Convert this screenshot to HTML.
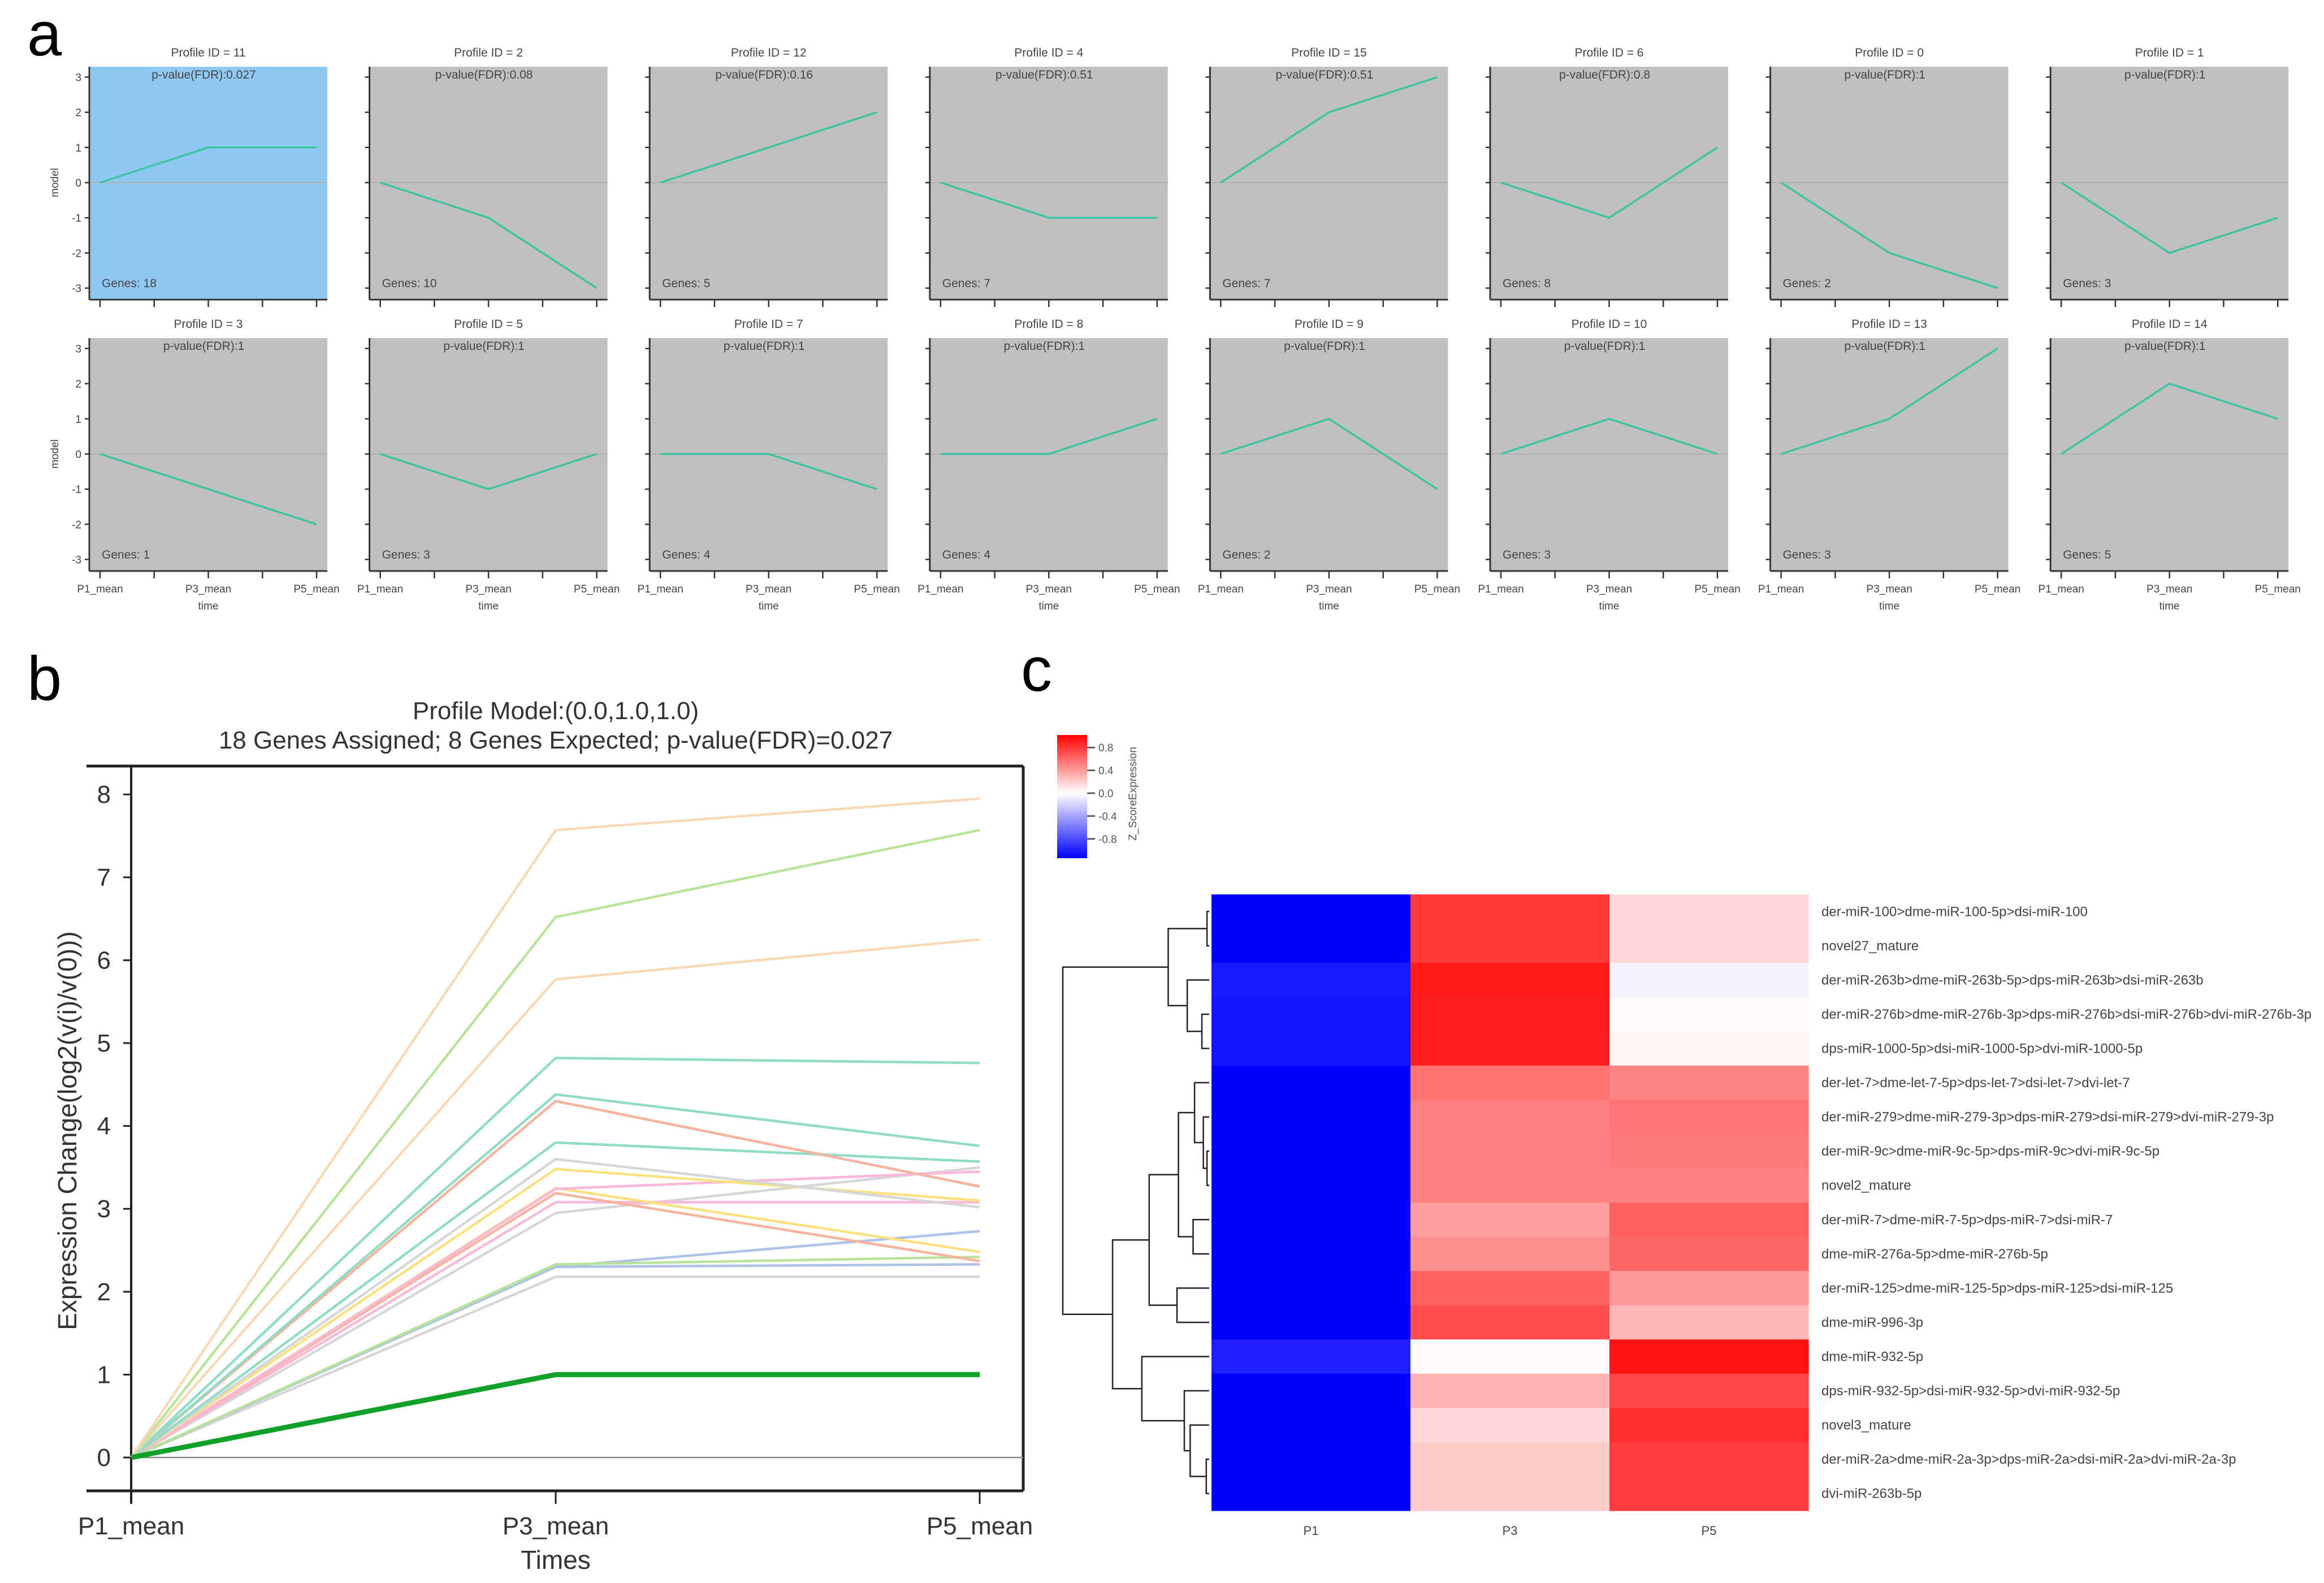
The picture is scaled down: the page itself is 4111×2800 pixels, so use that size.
<!DOCTYPE html>
<html><head><meta charset="utf-8">
<style>
html,body{margin:0;padding:0;background:#fff;}
svg{display:block;font-family:"Liberation Sans",Arial,sans-serif;}
</style></head>
<body>
<svg id="fig" width="4111" height="2800" viewBox="0 0 4111 2800" xmlns="http://www.w3.org/2000/svg">
<text x="48" y="98" font-size="110" font-family="Liberation Sans, sans-serif">a</text>
<text x="48" y="1238" font-size="110">b</text>
<text x="1806" y="1222" font-size="110">c</text>
<g id="pa"></g>
<g id="pb"></g>
<g id="pc"></g>
</svg>
<script>
// ---------- Panel a data ----------
const profileIds = [11,2,12,4,15,6,0,1, 3,5,7,8,9,10,13,14];
const profilePvals = ["0.027","0.08","0.16","0.51","0.51","0.8","1","1", "1","1","1","1","1","1","1","1"];
const profileGenes = [18,10,5,7,7,8,2,3, 1,3,4,4,2,3,3,5];
const profileModels = [[0,1,1],[0,-1,-3],[0,1,2],[0,-1,-1],[0,2,3],[0,-1,1],[0,-2,-3],[0,-2,-1],
  [0,-1,-2],[0,-1,0],[0,0,-1],[0,0,1],[0,1,-1],[0,1,0],[0,1,3],[0,2,1]];
const smallYTicks = [3,2,1,0,-1,-2,-3];
const timeLabels = ["P1_mean","P3_mean","P5_mean"];

// ---------- Panel b data ----------
const geneP3 = [7.57,6.52,5.77,4.82,4.38,4.30,3.80,3.60,3.48,3.24,3.25,3.19,3.08,2.95,2.33,2.30,2.30,2.18];
const geneP5 = [7.95,7.57,6.25,4.76,3.76,3.27,3.57,3.02,3.10,3.45,2.48,2.37,3.08,3.50,2.42,2.73,2.33,2.18];
const geneColors = ["#f7d9b8","#b9e39a","#f7d9b8","#92dbc6","#92dbc6","#f6b39e","#92dbc6","#d6d6d6","#fbe080","#f9b8d8","#fbe080","#f6b39e","#f9b8d8","#d6d6d6","#b9e39a","#aec2e8","#aec2e8","#d6d6d6"];
const modelProfile = [0,1,1];
const bigYTicks = [0,1,2,3,4,5,6,7,8];

// ---------- Panel c data ----------
const rowLabels = ["der-miR-100>dme-miR-100-5p>dsi-miR-100","novel27_mature","der-miR-263b>dme-miR-263b-5p>dps-miR-263b>dsi-miR-263b","der-miR-276b>dme-miR-276b-3p>dps-miR-276b>dsi-miR-276b>dvi-miR-276b-3p","dps-miR-1000-5p>dsi-miR-1000-5p>dvi-miR-1000-5p","der-let-7>dme-let-7-5p>dps-let-7>dsi-let-7>dvi-let-7","der-miR-279>dme-miR-279-3p>dps-miR-279>dsi-miR-279>dvi-miR-279-3p","der-miR-9c>dme-miR-9c-5p>dps-miR-9c>dvi-miR-9c-5p","novel2_mature","der-miR-7>dme-miR-7-5p>dps-miR-7>dsi-miR-7","dme-miR-276a-5p>dme-miR-276b-5p","der-miR-125>dme-miR-125-5p>dps-miR-125>dsi-miR-125","dme-miR-996-3p","dme-miR-932-5p","dps-miR-932-5p>dsi-miR-932-5p>dvi-miR-932-5p","novel3_mature","der-miR-2a>dme-miR-2a-3p>dps-miR-2a>dsi-miR-2a>dvi-miR-2a-3p","dvi-miR-263b-5p"];
const colLabels = ["P1","P3","P5"];
const zP1 = [-1,-1,-0.9,-0.92,-0.92,-1,-1,-1,-1,-1,-1,-1,-1,-0.88,-1,-1,-1,-1];
const zP3 = [0.78,0.78,0.9,0.88,0.88,0.55,0.5,0.5,0.5,0.38,0.44,0.62,0.7,0.02,0.3,0.15,0.2,0.2];
const zP5 = [0.15,0.15,-0.05,0.02,0.04,0.48,0.54,0.52,0.5,0.62,0.6,0.4,0.28,0.92,0.72,0.82,0.76,0.76];
const cbTicks = [0.8,0.4,0.0,-0.4,-0.8];
// dendrogram: [left, right, height] ; leaves are row indices
const tree = [[[0,1,0.015],[2,[3,4,0.05],0.15],0.28],
  [[[[5,[6,[7,8,0.015],0.04],0.1],[9,10,0.11],0.21],[11,12,0.22],0.41],[13,[14,[15,[16,17,0.02],0.13],0.17],0.46],0.66],1.0];

const NS="http://www.w3.org/2000/svg";
function mk(parent,tag,attrs,text){const e=document.createElementNS(NS,tag);for(const k in attrs)e.setAttribute(k,attrs[k]);if(text!==undefined)e.textContent=text;parent.appendChild(e);return e;}

// ---------- Panel a ----------
(function(){
  const g=document.getElementById('pa');
  const left0=158, pitch=495.6, W=421, rowsTop=[118,598], H=412;
  for(let i=0;i<profileIds.length;i++){
    const r=Math.floor(i/8), c=i%8;
    const L=left0+c*pitch, T=rowsTop[r];
    const y0=T+205, unit=62.2;
    const ys=v=>y0-v*unit;
    const xs=k=>L+19+k*191.5;
    const sg=mk(g,'g',{});
    
    
    const bg=mk(sg,'rect',{x:L,y:T,width:W,height:H,fill:i===0?'#90c8f4':'#c0c0c0'});
    
    
    mk(sg,'line',{x1:L,x2:L+W,y1:y0,y2:y0,stroke:'#b0b0b0','stroke-width':2});
    mk(sg,'line',{x1:L,x2:L,y1:T,y2:T+H,stroke:'#333','stroke-width':3});
    mk(sg,'line',{x1:L,x2:L+W,y1:T+H,y2:T+H,stroke:'#333','stroke-width':3});
    smallYTicks.forEach(v=>{
      mk(sg,'line',{x1:L-8,x2:L,y1:ys(v),y2:ys(v),stroke:'#333','stroke-width':2.5});
      if(c===0){const t=mk(sg,'text',{x:L-14,y:ys(v)+7,'font-size':19,fill:'#444','text-anchor':'end'},String(v));
        }
    });
    for(let k=0;k<5;k++){const x=L+19+k*95.75;mk(sg,'line',{x1:x,x2:x,y1:T+H,y2:T+H+13,stroke:'#333','stroke-width':2.5});}
    if(c===0){const yl=mk(sg,'text',{x:0,y:0,'font-size':19,fill:'#444','text-anchor':'middle',transform:`translate(${L-55},${y0}) rotate(-90)`},'model');
      }
    if(r===1){
      timeLabels.forEach((lb,k)=>{const t=mk(sg,'text',{x:xs(k),y:T+H+38,'font-size':19,fill:'#444','text-anchor':'middle'},lb);
        });
      const tt=mk(sg,'text',{x:xs(1),y:T+H+68,'font-size':19,fill:'#444','text-anchor':'middle'},'time');
      
    }
    const ti=mk(sg,'text',{x:xs(1),y:T-18,'font-size':21,fill:'#444','text-anchor':'middle'},'Profile ID = '+profileIds[i]);
    
    const pv=mk(sg,'text',{x:xs(1)-8,y:T+21,'font-size':21,fill:'#444','text-anchor':'middle'},'p-value(FDR):'+profilePvals[i]);
    
    const gn=mk(sg,'text',{x:L+22,y:T+390,'font-size':21,fill:'#444'},'Genes: '+profileGenes[i]);
    
    const m=profileModels[i];
    const pl=mk(sg,'polyline',{points:m.map((v,k)=>xs(k)+','+ys(v)).join(' '),fill:'none',stroke:'#3cc39f','stroke-width':3.5});
    
  }
})();

// ---------- Panel b ----------
(function(){
  const g=document.getElementById('pb');
  const xP=[232,983,1733];
  const ys=v=>2578-v*146.6;
  const xs=k=>xP[k];
  mk(g,'line',{x1:153,x2:1810,y1:1355,y2:1355,stroke:'#222','stroke-width':5});
  mk(g,'line',{x1:153,x2:1810,y1:2637,y2:2637,stroke:'#222','stroke-width':5});
  mk(g,'line',{x1:1810,x2:1810,y1:1355,y2:2637,stroke:'#222','stroke-width':5});
  mk(g,'line',{x1:232,x2:232,y1:1355,y2:2660,stroke:'#222','stroke-width':4});
  mk(g,'line',{x1:232,x2:1810,y1:ys(0),y2:ys(0),stroke:'#888','stroke-width':2.5});
  bigYTicks.forEach(v=>{
    mk(g,'line',{x1:218,x2:232,y1:ys(v),y2:ys(v),stroke:'#222','stroke-width':3});
    const t=mk(g,'text',{x:196,y:ys(v)+15,'font-size':44,fill:'#333','text-anchor':'end'},String(v));
    
  });
  timeLabels.forEach((lb,k)=>{
    mk(g,'line',{x1:xs(k),x2:xs(k),y1:2637,y2:2660,stroke:'#222','stroke-width':3});
    const t=mk(g,'text',{x:xs(k),y:2714,'font-size':44,fill:'#333','text-anchor':'middle'},lb);
    
  });
  const xt=mk(g,'text',{x:983,y:2775,'font-size':46,fill:'#333','text-anchor':'middle'},'Times');
  
  const yt=mk(g,'text',{x:0,y:0,'font-size':46,fill:'#333','text-anchor':'middle',transform:'translate(135,2000) rotate(-90)'},'Expression Change(log2(v(i)/v(0)))');
  
  const t1=mk(g,'text',{x:983,y:1272,'font-size':44,fill:'#333','text-anchor':'middle'},'Profile Model:(0.0,1.0,1.0)');
  
  const t2=mk(g,'text',{x:983,y:1324,'font-size':44,fill:'#333','text-anchor':'middle'},'18 Genes Assigned; 8 Genes Expected; p-value(FDR)=0.027');
  
  for(let i=geneP3.length-1;i>=0;i--){
    const vals=[0,geneP3[i],geneP5[i]];
    const pl=mk(g,'polyline',{points:vals.map((v,k)=>xs(k)+','+ys(v)).join(' '),fill:'none',stroke:geneColors[i],'stroke-width':4.5});
    
  }
  const ml=mk(g,'polyline',{points:modelProfile.map((v,k)=>xs(k)+','+ys(v)).join(' '),fill:'none',stroke:'#11a02a','stroke-width':9});
  
})();

// ---------- Panel c ----------
(function(){
  const g=document.getElementById('pc');
  const hx=2143, colW=352, top=1582, rowH=(2672-1582)/18;
  function col(z){z=Math.max(-1,Math.min(1,z));
    if(z>=0){const a=Math.round(255*(1-z));return `rgb(255,${a},${a})`;}
    const a=Math.round(255*(1+z));return `rgb(${a},${a},255)`;}
  const cols=[zP1,zP3,zP5];
  for(let r=0;r<rowLabels.length;r++){
    for(let c=0;c<3;c++){
      const cell=mk(g,'rect',{x:hx+c*colW,y:top+r*rowH,width:colW+0.6,height:rowH+0.6,fill:col(cols[c][r])});
      
    }
    const t=mk(g,'text',{x:3222,y:top+r*rowH+rowH/2+8,'font-size':24,fill:'#444'},rowLabels[r]);
    
  }
  colLabels.forEach((lb,c)=>{const t=mk(g,'text',{x:hx+c*colW+colW/2,y:2715,'font-size':22,fill:'#444','text-anchor':'middle'},lb);
    });
  const scale=259;
  const dx=h=>hx-4-h*scale;
  function draw(node){
    if(typeof node==='number')return {y:top+node*rowH+rowH/2,h:0};
    const a=draw(node[0]),b=draw(node[1]),h=node[2],x=dx(h);
    const p=mk(g,'path',{d:`M${dx(a.h)},${a.y}H${x}V${b.y}H${dx(b.h)}`,fill:'none',stroke:'#222','stroke-width':2.5});
    
    return {y:(a.y+b.y)/2,h:h};
  }
  draw(tree);
  const defs=mk(g,'defs',{});
  const lg=mk(defs,'linearGradient',{id:'cbg',x1:0,y1:0,x2:0,y2:1});
  mk(lg,'stop',{offset:'0','stop-color':'#ff0000'});
  mk(lg,'stop',{offset:'0.47','stop-color':'#ffffff'});
  mk(lg,'stop',{offset:'1','stop-color':'#0000ff'});
  const cb=mk(g,'rect',{x:1870,y:1300,width:53,height:218,fill:'url(#cbg)'});
  
  cbTicks.forEach(v=>{const y=1403-v*101;
    mk(g,'line',{x1:1923,x2:1937,y1:y,y2:y,stroke:'#444','stroke-width':2.5});
    const t=mk(g,'text',{x:1943,y:y+7,'font-size':19,fill:'#555'},v.toFixed(1));
    });
  const ct=mk(g,'text',{x:0,y:0,'font-size':19,fill:'#555','text-anchor':'middle',transform:'translate(2010,1404) rotate(-90)'},'Z_ScoreExpression');
  
})();
</script>
</body></html>
